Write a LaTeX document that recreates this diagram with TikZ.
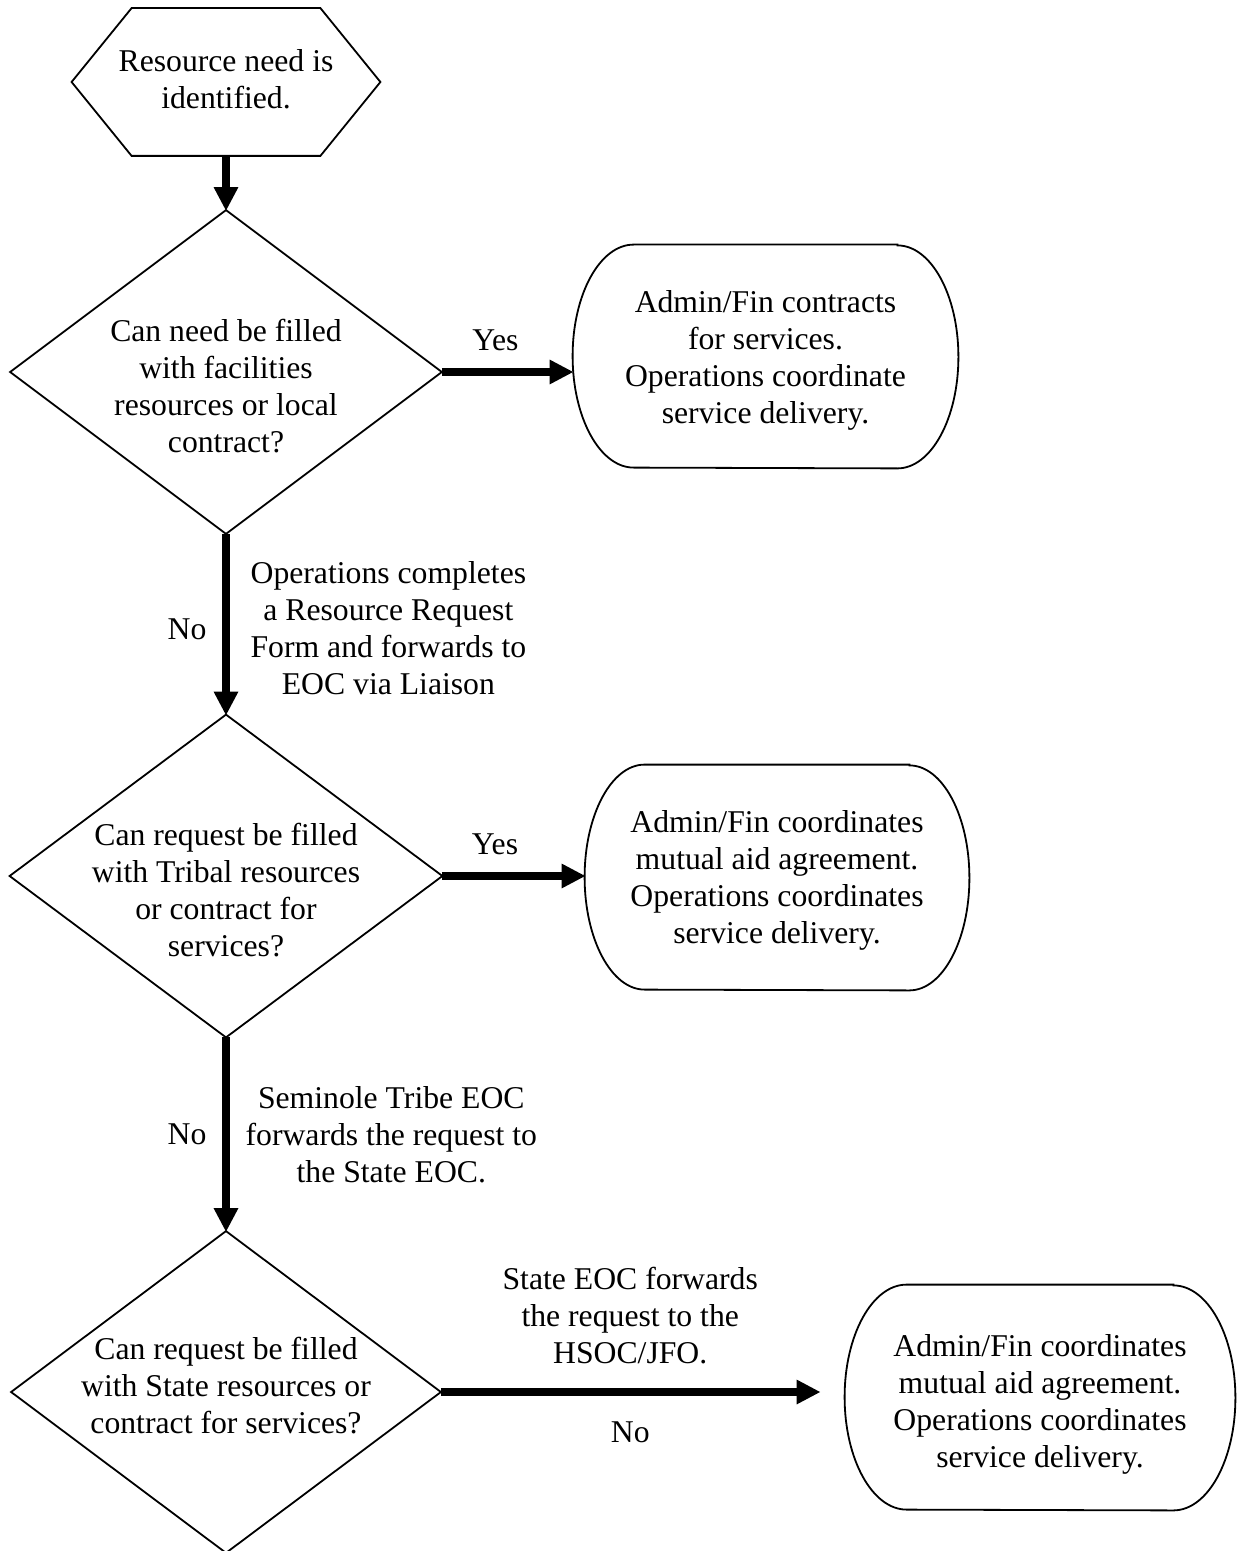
\documentclass[tikz,border=0pt]{standalone}
\usepackage{fontspec}
\setmainfont{Liberation Serif}
\usetikzlibrary{arrows.meta,calc}

\begin{document}
\begin{tikzpicture}[x=0.5pt,y=-0.5pt,
  every node/.style={font=\fontsize{15.85}{18.5}\selectfont, align=center, inner sep=0pt},
  frame/.style={draw=none, rectangle, inner sep=0pt},
  outline/.style={line width=0.9pt, line join=miter},
  flow/.style={line width=3.6pt, -{Triangle[width=11.5pt,length=12pt]}, shorten >=-0.5pt},
  lbl/.style={font=\fontsize{15.85}{18.5}\selectfont, align=center}
]
\useasboundingbox (0,0) rectangle (1238,1551);

% ---- shape frames (outlines drawn below from their anchors) ----
\node[frame, minimum width=154pt, minimum height=73.5pt] (start) at (226,82) {};
\node[frame, minimum width=215.5pt, minimum height=161.5pt] (q1) at (226,372) {};
\node[frame, minimum width=192.5pt, minimum height=111.5pt] (r1) at (765.5,356.5) {};
\node[frame, minimum width=216pt, minimum height=161pt] (q2) at (226,876) {};
\node[frame, minimum width=192pt, minimum height=112.5pt] (r2) at (777,877.5) {};
\node[frame, minimum width=214.5pt, minimum height=160.5pt] (q3) at (226,1392) {};
\node[frame, minimum width=195pt, minimum height=112.5pt] (r3) at (1040,1397.5) {};

% ---- texts inside the shapes ----
\node[yshift=1.25pt] (startt) at (start) {Resource need is\\identified.};
\node[yshift=-7pt] (q1t) at (q1) {Can need be filled\\with facilities\\resources or local\\contract?};
\node[yshift=-1.75pt] (r1t) at (r1) {Admin/Fin contracts\\for services.\\Operations coordinate\\service delivery.};
\node[yshift=-7.25pt] (q2t) at (q2) {Can request be filled\\with Tribal resources\\or contract for\\services?};
\node[yshift=-1.5pt] (r2t) at (r2) {Admin/Fin coordinates\\mutual aid agreement.\\Operations coordinates\\service delivery.};
\node[yshift=3pt] (q3t) at (q3) {Can request be filled\\with State resources or\\contract for services?};
\node[yshift=-3.5pt] (r3t) at (r3) {Admin/Fin coordinates\\mutual aid agreement.\\Operations coordinates\\service delivery.};

% ---- hexagon: start ----
\draw[outline] (start.west) -- ($(start.north west)+(60,0)$) -- ($(start.north east)+(-60,0)$)
  -- (start.east) -- ($(start.south east)+(-60,0)$) -- ($(start.south west)+(60,0)$) -- cycle;

% ---- decision diamonds ----
\foreach \d in {q1,q2,q3}
  \draw[outline] (\d.north) -- (\d.east) -- (\d.south) -- (\d.west) -- cycle;

% ---- result boxes with elliptical ends ----
\foreach \r/\rx/\ax/\ay in {r1/61/30.5pt/55.75pt, r2/60/30pt/56.25pt, r3/62/31pt/56.25pt} {
  \draw[outline] ($(\r.north east)+(-\rx,0)$) -- ($(\r.north west)+(\rx,0)$)
    arc[start angle=90, end angle=270, x radius=\ax, y radius=\ay]
    -- ($(\r.south east)+(-\rx,0)$)
    arc[start angle=-90, end angle=90, x radius=\ax, y radius=\ay] -- cycle;
}

% the last arrow stops short of its box
\coordinate (r3in) at ($(q3.east -| r3.west)+(-25,0)$);

% ---- connectors ----
\draw[flow] (start.south) -- (q1.north);
\draw[flow] (q1.east) -- node[pos=0.41, above=9pt, lbl] (y1) {Yes} (q1.east -| r1.west);
\draw[flow] (q1.south) -- node[pos=0.5, left=8pt, yshift=-2.5pt, lbl] (n1) {No}
  node[pos=0.5, right=10.5pt, yshift=-2pt, lbl] (m1) {Operations completes\\a Resource Request\\Form and forwards to\\EOC via Liaison} (q2.north);
\draw[flow] (q2.east) -- node[pos=0.37, above=9pt, lbl] (y2) {Yes} (q2.east -| r2.west);
\draw[flow] (q2.south) -- node[pos=0.5, left=8pt, lbl] (n2) {No}
  node[pos=0.5, right=8pt, lbl] (m2) {Seminole Tribe EOC\\forwards the request to\\the State EOC.} (q3.north);
\draw[flow] (q3.east) -- node[pos=0.5, above=12pt, lbl] (m3) {State EOC forwards\\the request to the\\HSOC/JFO.}
  node[pos=0.5, below=13pt, lbl] (n3) {No} (r3in);
\end{tikzpicture}
\end{document}
